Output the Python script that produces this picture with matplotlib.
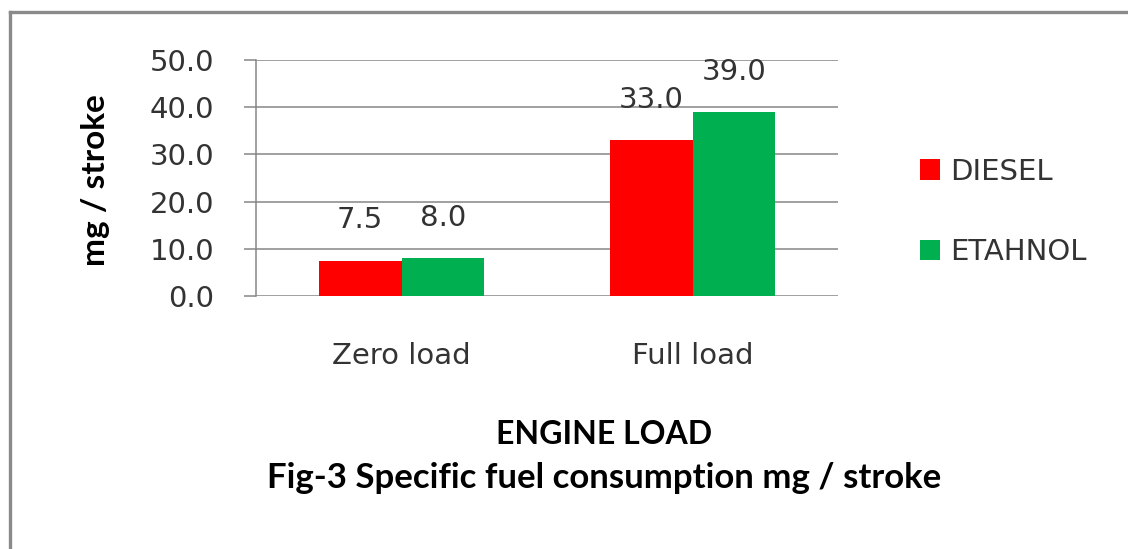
import matplotlib
matplotlib.use("Agg")
import matplotlib.pyplot as plt
from matplotlib.lines import Line2D
import numpy as np

categories = ["Zero load", "Full load"]
series_names = ["DIESEL", "ETAHNOL"]
diesel = [7.5, 33.0]
ethanol = [8.0, 39.0]
yticks = [0, 10, 20, 30, 40, 50]

colors = ["#FF0000", "#00B050"]
txt = "#333333"
fs = 21

fig = plt.figure(figsize=(11.28, 5.49), dpi=100)
ax = fig.add_axes([256/1128, 1-296/549, (838-256)/1128, (296-60)/549])

x = np.arange(len(categories))
w = 0.285
b1 = ax.bar(x - w/2, diesel, w, color=colors[0], label=series_names[0])
b2 = ax.bar(x + w/2, ethanol, w, color=colors[1], label=series_names[1])

for bars, vals in ((b1, diesel), (b2, ethanol)):
    for r, v in zip(bars, vals):
        ax.annotate(f"{v:.1f}", (r.get_x() + r.get_width()/2, v),
                    xytext=(0, 29), textcoords="offset points",
                    ha="center", va="center", fontsize=fs, color=txt)

ax.set_xlim(-0.5, 1.5)
ax.set_ylim(0, 50)
ax.set_yticks(yticks)
ax.set_yticklabels([f"{t:.1f}" for t in yticks], fontsize=fs, color=txt)
ax.set_xticks(x)
ax.set_xticklabels(categories, fontsize=fs, color=txt)
ax.tick_params(axis="x", length=0, pad=33)
ax.tick_params(axis="y", length=9, width=1.1, color="#868686", pad=21)
ax.yaxis.grid(True, color="#868686", linewidth=1.1)
ax.set_axisbelow(True)
for s in ["top", "right", "bottom"]:
    ax.spines[s].set_visible(False)
ax.spines["left"].set_color("#868686")
ax.spines["left"].set_linewidth(1.1)

fig.text(95/1128, 1-180/549, "mg / stroke", rotation=90, ha="center", va="center",
         fontsize=24, fontweight="bold", family="Lato", color="black")
fig.text(604/1128, 1-435/549, "ENGINE LOAD", ha="center", va="center",
         fontsize=23, fontweight="bold", family="Lato", color="black")
fig.text(604/1128, 1-478/549, "Fig-3 Specific fuel consumption mg / stroke",
         ha="center", va="center", fontsize=25, fontweight="bold", family="Lato", color="black")

leg = ax.legend(loc="center left", bbox_to_anchor=(894/1128, 1-212/549),
                bbox_transform=fig.transFigure, frameon=False, fontsize=fs,
                handlelength=0.69, handleheight=0.69, handletextpad=0.35,
                labelspacing=1.8, labelcolor=txt)

# chart border (top and left edges visible)
fig.add_artist(Line2D([9.5/1128, 9.5/1128], [0, 1-11.5/549], transform=fig.transFigure,
                      color="#8a8a8a", linewidth=2.4))
fig.add_artist(Line2D([9.5/1128, 1], [1-11.5/549, 1-11.5/549], transform=fig.transFigure,
                      color="#8a8a8a", linewidth=2.4))

fig.savefig("out.png", dpi=100)
